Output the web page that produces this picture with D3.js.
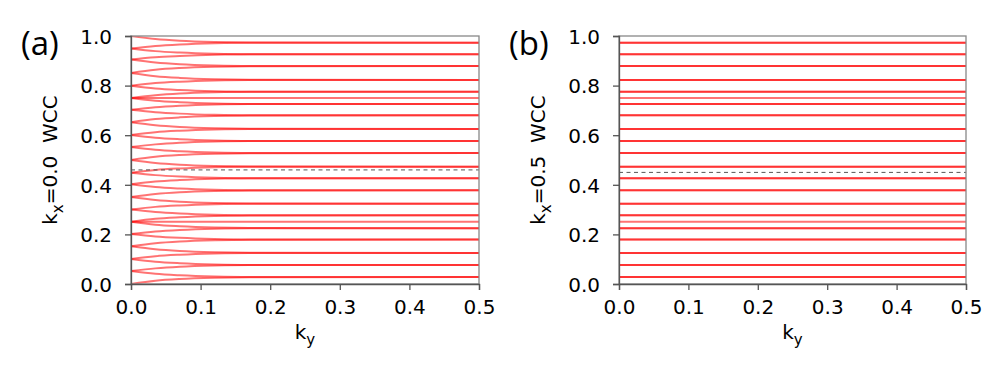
<!DOCTYPE html>
<html>
<head>
<meta charset="utf-8">
<title>WCC</title>
<script src="https://d3js.org/d3.v7.min.js"></script>
<style>
  body { margin: 0; background: #fff; }
  text { font-family: "DejaVu Sans", sans-serif; fill: #000; }
  .panel-label { font-family: "Open Sans", Lato, sans-serif; font-size: 33px; }
</style>
</head>
<body>
<div id="vis"></div>
<script>
// ky sample points for panel (a) bands
var kyA = [0, 0.035, 0.07, 0.12, 0.17, 0.5];
// WCC bands at kx = 0.0 (values at kyA)
var wccA = [
  [1.000, 0.988, 0.981, 0.976, 0.974, 0.973],
  [0.950, 0.960, 0.966, 0.971, 0.973, 0.973],
  [0.950, 0.939, 0.933, 0.928, 0.926, 0.926],
  [0.905, 0.914, 0.919, 0.924, 0.926, 0.926],
  [0.905, 0.893, 0.886, 0.881, 0.879, 0.879],
  [0.851, 0.864, 0.871, 0.876, 0.878, 0.879],
  [0.851, 0.838, 0.831, 0.826, 0.824, 0.823],
  [0.799, 0.810, 0.816, 0.821, 0.823, 0.823],
  [0.799, 0.788, 0.782, 0.777, 0.775, 0.775],
  [0.750, 0.761, 0.768, 0.773, 0.775, 0.775],
  [0.750, 0.750, 0.750, 0.750, 0.750, 0.750],
  [0.750, 0.739, 0.733, 0.728, 0.726, 0.726],
  [0.703, 0.713, 0.719, 0.724, 0.726, 0.726],
  [0.703, 0.693, 0.687, 0.682, 0.680, 0.680],
  [0.652, 0.665, 0.672, 0.677, 0.679, 0.680],
  [0.652, 0.640, 0.633, 0.628, 0.626, 0.625],
  [0.601, 0.612, 0.618, 0.623, 0.625, 0.625],
  [0.601, 0.590, 0.584, 0.579, 0.577, 0.577],
  [0.552, 0.563, 0.570, 0.575, 0.577, 0.577],
  [0.552, 0.541, 0.535, 0.530, 0.528, 0.528],
  [0.500, 0.513, 0.520, 0.525, 0.527, 0.528],
  [0.500, 0.488, 0.481, 0.476, 0.474, 0.473],
  [0.449, 0.460, 0.466, 0.471, 0.473, 0.473],
  [0.449, 0.439, 0.433, 0.428, 0.426, 0.426],
  [0.402, 0.413, 0.419, 0.424, 0.426, 0.426],
  [0.402, 0.391, 0.385, 0.380, 0.378, 0.378],
  [0.351, 0.363, 0.370, 0.375, 0.377, 0.378],
  [0.351, 0.339, 0.332, 0.327, 0.325, 0.324],
  [0.300, 0.311, 0.317, 0.322, 0.324, 0.324],
  [0.300, 0.290, 0.284, 0.279, 0.277, 0.277],
  [0.251, 0.263, 0.269, 0.274, 0.276, 0.277],
  [0.251, 0.251, 0.251, 0.251, 0.251, 0.251],
  [0.251, 0.239, 0.233, 0.228, 0.226, 0.225],
  [0.202, 0.212, 0.218, 0.223, 0.225, 0.225],
  [0.202, 0.192, 0.186, 0.181, 0.179, 0.179],
  [0.152, 0.164, 0.171, 0.176, 0.178, 0.179],
  [0.152, 0.140, 0.133, 0.128, 0.126, 0.125],
  [0.101, 0.112, 0.118, 0.123, 0.125, 0.125],
  [0.101, 0.090, 0.084, 0.079, 0.077, 0.077],
  [0.052, 0.063, 0.070, 0.075, 0.077, 0.077],
  [0.052, 0.041, 0.035, 0.030, 0.028, 0.028],
  [0.000, 0.013, 0.020, 0.025, 0.027, 0.028]
];

// panel (b): flat WCC levels at kx = 0.5, and how many bands sit on each
var kyB = [0, 0.5];
var levelsB = [0.973, 0.926, 0.879, 0.823, 0.775, 0.750, 0.726, 0.680, 0.625, 0.577, 0.528,
               0.473, 0.426, 0.378, 0.324, 0.277, 0.251, 0.225, 0.179, 0.125, 0.077, 0.028];
var degenB = [2, 2, 2, 2, 2, 1, 2, 2, 2, 2, 2, 2, 2, 2, 2, 2, 1, 2, 2, 2, 2, 2];

var xTicks = [0, 0.1, 0.2, 0.3, 0.4, 0.5];
var yTicks = [0, 0.2, 0.4, 0.6, 0.8, 1.0];
var panelLabels = ["(a)", "(b)"];
var kxLabels = ["0.0", "0.5"];
var dashedWCC = [0.46, 0.45];

var W = 1005, H = 375;
var svg = d3.select("#vis").append("svg").attr("width", W).attr("height", H);

var panels = [
  { left: 131, right: 479, label: panelLabels[0], kx: kxLabels[0], dash: dashedWCC[0], lx: 21, ylab: 57,
    bands: wccA.map(function (b) { return b.map(function (v, i) { return [kyA[i], v]; }); }) },
  { left: 619, right: 966, label: panelLabels[1], kx: kxLabels[1], dash: dashedWCC[1], lx: 509, ylab: 545,
    bands: [] }
];
levelsB.forEach(function (v, i) {
  for (var k = 0; k < degenB[i]; k++) panels[1].bands.push(kyB.map(function (ky) { return [ky, v]; }));
});

var plotTop = 36, plotBottom = 284;

panels.forEach(function (p, pi) {
  var x = d3.scaleLinear().domain([0, 0.5]).range([p.left, p.right]);
  var y = d3.scaleLinear().domain([0, 1]).range([plotBottom, plotTop]);
  var g = svg.append("g");

  g.append("clipPath").attr("id", "clip" + pi)
    .append("rect").attr("x", p.left).attr("y", plotTop)
    .attr("width", p.right - p.left).attr("height", plotBottom - plotTop);

  var line = d3.line()
    .x(function (d) { return x(d[0]); })
    .y(function (d) { return y(d[1]); })
    .curve(d3.curveMonotoneX);

  g.append("g").attr("clip-path", "url(#clip" + pi + ")")
    .selectAll("path").data(p.bands).enter().append("path")
    .attr("d", line)
    .attr("fill", "none")
    .attr("stroke", "#ff0000")
    .attr("stroke-opacity", 0.55)
    .attr("stroke-width", 2);

  g.append("line")
    .attr("x1", p.left).attr("x2", p.right)
    .attr("y1", y(p.dash)).attr("y2", y(p.dash))
    .attr("stroke", "#555").attr("stroke-width", 1)
    .attr("stroke-dasharray", "4,3.5");

  // frame
  g.append("rect").attr("x", p.left).attr("y", plotTop)
    .attr("width", p.right - p.left).attr("height", plotBottom - plotTop)
    .attr("fill", "none").attr("stroke", "#888").attr("stroke-width", 1.3);

  var xa = g.append("g").attr("transform", "translate(0," + plotBottom + ")")
    .call(d3.axisBottom(x).tickValues(xTicks).tickSize(6).tickPadding(10).tickFormat(d3.format(".1f")));
  var ya = g.append("g").attr("transform", "translate(" + p.left + ",0)")
    .call(d3.axisLeft(y).tickValues(yTicks).tickSize(6).tickPadding(13).tickFormat(d3.format(".1f")));
  [xa, ya].forEach(function (a) {
    a.attr("font-size", 20).attr("font-family", "DejaVu Sans");
    a.select(".domain").attr("stroke", "#555").attr("stroke-width", 1.3);
    a.selectAll(".tick line").attr("stroke", "#555").attr("stroke-width", 1.3);
  });
  xa.selectAll(".tick text").attr("dy", "0.72em");
  ya.selectAll(".tick text").attr("dy", "0.36em");

  // x label k_y
  var xl = g.append("text").attr("x", (p.left + p.right) / 2).attr("y", 339)
    .attr("text-anchor", "middle").attr("font-size", 20);
  xl.append("tspan").text("k");
  xl.append("tspan").attr("font-size", 15).attr("dy", 6).text("y");

  // y label k_x=..  WCC
  var yl = g.append("text")
    .attr("transform", "translate(" + p.ylab + "," + ((plotTop + plotBottom) / 2) + ") rotate(-90)")
    .attr("text-anchor", "middle").attr("font-size", 20);
  yl.append("tspan").text("k");
  yl.append("tspan").attr("font-size", 15).attr("dy", 6).text("x");
  yl.append("tspan").attr("dy", -6).text("=" + p.kx + "\u00a0\u00a0WCC");

  g.append("text").attr("class", "panel-label")
    .attr("x", p.lx).attr("y", 55).text(p.label);
});
</script>
</body>
</html>
